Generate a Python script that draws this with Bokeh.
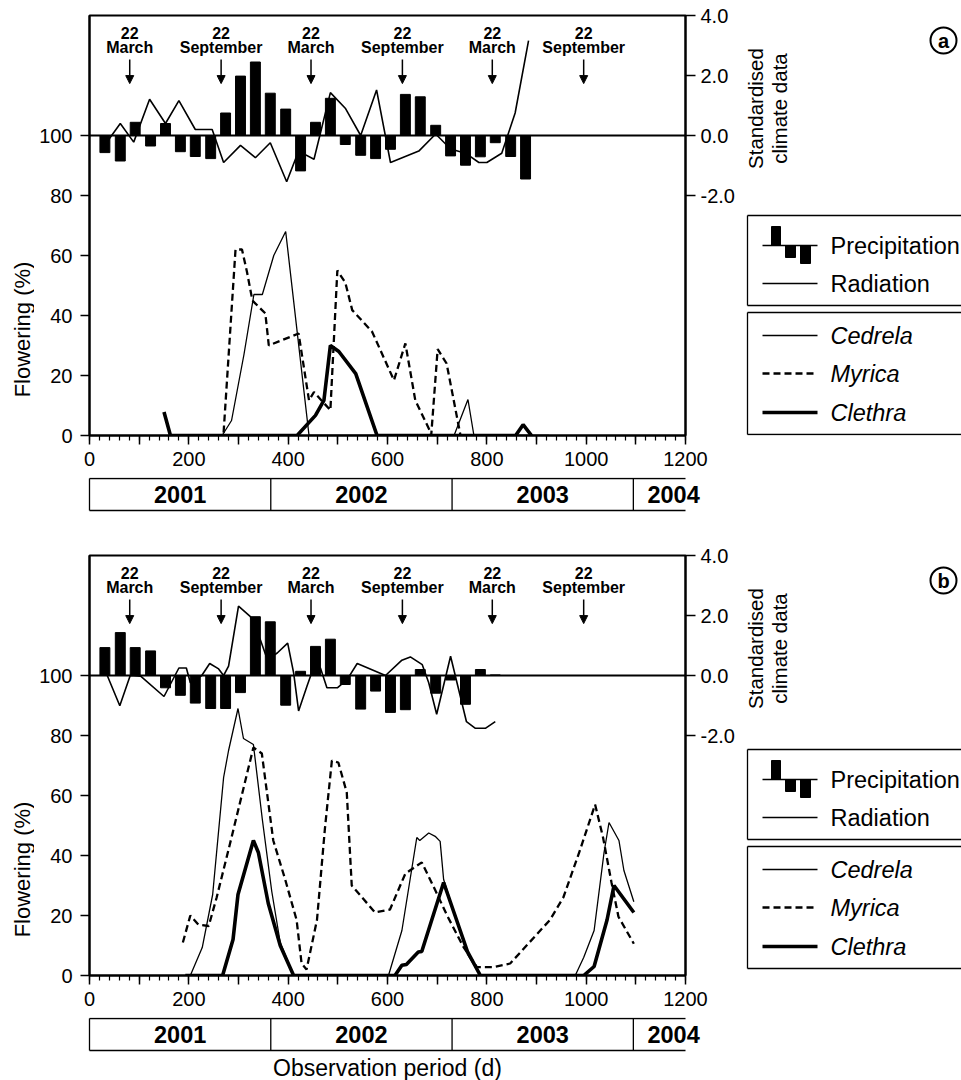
import math
from bokeh.plotting import figure
from bokeh.layouts import column, row
from bokeh.models import (Range1d, LinearAxis, FixedTicker, PrintfTickFormatter, Span,
                          Arrow, NormalHead, ColumnDataSource)
from bokeh.core.properties import value
from bokeh.embed import file_html
from bokeh.resources import INLINE

# ---------------- data ----------------
# Panel a
PREC_A_DAY = [31, 62, 92, 123, 153, 183, 213, 244, 274, 304, 334, 364, 395, 425, 455,
              485, 515, 546, 576, 606, 636, 666, 697, 727, 757, 787, 817, 848, 878]
PREC_A = [-0.57, -0.85, 0.44, -0.35, 0.40, -0.54, -0.70, -0.77, 0.75, 1.98, 2.45, 1.41,
          0.88, -1.18, 0.44, 1.24, -0.30, -0.66, -0.77, -0.46, 1.37, 1.29, 0.34, -0.68,
          -0.99, -0.71, -0.24, -0.70, -1.45]
RAD_A_DAY = [25, 62, 89, 121, 153, 180, 213, 247, 270, 304, 334, 364, 397, 421, 452, 485,
             515, 546, 578, 606, 663, 697, 727, 757, 784, 800, 830, 857, 884]
RAD_A = [-0.45, 0.40, -0.22, 1.21, 0.40, 1.16, 0.20, 0.20, -0.90, -0.33, -0.74, -0.24,
         -1.54, -0.52, -0.79, 1.43, 0.91, 0.0, 1.52, -0.90, -0.52, 0.05, -0.45, -0.59,
         -0.90, -0.90, -0.59, 0.75, 3.16]
CED_A_DAY = [163, 267, 286, 311, 331, 348, 371, 395, 442, 734, 762, 774, 925]
CED_A = [0, 0, 5, 27, 47, 47, 60, 68, 0, 0, 12, 0, 0]
MYR_A_DAY = [163, 267, 270, 294, 307, 317, 328, 354, 361, 421, 442, 452, 485, 499, 515,
             529, 569, 613, 636, 656, 685, 688, 701, 719, 747]
MYR_A = [0, 0, 1, 62, 62, 54.6, 45, 40.7, 30, 34, 11.7, 14.5, 8.4, 55, 51, 41.8, 34.6,
         18.4, 30.7, 11.7, 1.7, 0, 28.8, 24, 0]
CLE_A_DAY = [150, 163, 418, 455, 472, 485, 502, 536, 579, 858, 873, 890]
CLE_A = [7.8, 0, 0, 6.7, 11.7, 30, 28, 20.6, 0, 0, 3.6, 0]

# Panel b
PREC_B_DAY = [31, 62, 92, 123, 153, 183, 213, 244, 274, 304, 334, 364, 395, 425, 455,
              485, 515, 546, 576, 606, 636, 666, 697, 727, 757, 787, 817]
PREC_B = [0.93, 1.43, 0.93, 0.82, -0.41, -0.66, -0.92, -1.10, -1.10, -0.57, 1.96, 1.79,
          -0.99, 0.14, 0.97, 1.21, -0.30, -1.12, -0.52, -1.23, -1.14, 0.20, -0.59, -0.15,
          -0.96, 0.20, 0.02]
RAD_B_DAY = [28, 61, 82, 103, 150, 180, 195, 203, 226, 242, 260, 270, 280, 300, 324, 344,
             358, 378, 399, 411, 421, 438, 452, 465, 478, 499, 519, 539, 596, 629, 646,
             670, 683, 699, 727, 759, 777, 797, 817]
RAD_B = [0.31, -1.01, 0.0, -0.02, -0.70, 0.25, 0.25, -0.24, 0.0, 0.40, 0.22, 0.0, 0.31,
         2.31, 1.96, 1.19, 0.53, 0.75, 1.08, 0.09, -1.18, -0.35, 0.31, 0.25, -0.41, -0.41,
         -0.13, 0.40, 0.0, 0.51, 0.62, 0.36, -0.24, -1.29, 0.64, -1.54, -1.76, -1.76, -1.54]
CED_B_DAY = [193, 203, 227, 248, 270, 280, 299, 310, 330, 348, 367, 384, 411, 602, 629,
             659, 665, 683, 696, 706, 713, 761, 787, 978, 995, 1016, 1036, 1046, 1066,
             1076, 1096]
CED_B = [0, 0, 9.3, 27, 66, 75, 89, 79, 77, 52, 28, 11, 0, 0, 15, 46, 45, 47.5, 46.4,
         44.7, 32, 7, 0, 0, 6, 15, 41, 51, 45, 35, 24.6]
MYR_B_DAY = [188, 203, 219, 240, 256, 283, 330, 347, 370, 394, 417, 427, 437, 458, 474,
             488, 501, 518, 528, 575, 605, 636, 669, 696, 720, 753, 780, 814, 847, 927,
             954, 988, 1018, 1034, 1051, 1065, 1096]
MYR_B = [11, 20, 17, 16.5, 26, 44, 76, 74, 45, 32, 18.5, 4, 2, 18.5, 49, 71.6, 71, 61, 30,
         21, 22, 34, 37.7, 28.5, 20, 9.5, 2.8, 2.8, 4, 18.5, 26, 42, 57, 46, 31, 19.6, 10.6]
CLE_B_DAY = [193, 268, 289, 299, 330, 340, 360, 384, 411, 615, 629, 638, 662, 669, 713,
             761, 787, 995, 1016, 1042, 1056, 1096]
CLE_B = [0, 0, 12, 27, 45, 41, 24, 10, 0, 0, 3.4, 3.7, 7.8, 8, 31, 8, 0, 0, 3, 18.5, 30, 21]

# season markers (equinoxes)
MARK_DAY = [81, 265, 446, 630, 811, 995]
MARK_MONTH = ["March", "September", "March", "September", "March", "September"]
MARK_DATE = ["22"] * 6

# years
YEAR_LABELS = ["2001", "2002", "2003", "2004"]
YEAR_START = [0, 365, 730, 1095]
YEAR_END = [365, 730, 1095, 1257]

FLOW_TICKS = [0, 20, 40, 60, 80, 100]
CLIM_TICKS = [-2, 0, 2, 4]
X_MAJOR = list(range(0, 1201, 100))
X_MINOR = list(range(0, 1201, 20))
X_LABELLED = list(range(0, 1201, 200))

# ---------------- layout constants ----------------
FONT = "Liberation Sans"
PAGE_W = 961
LAB_W = 34                   # narrow strip holding the left axis title
FRAME_X0, FRAME_W = 89, 596  # page x of frame left, frame width
MAIN_W = 743 - LAB_W
SIDE_X0 = 743
SIDE_W = PAGE_W - SIDE_X0
FRAME_H = 420
BOT_B = 42
PPD = FRAME_W / 1200.0


def style_axis(ax):
    ax.axis_line_width = 2
    ax.axis_line_color = "black"
    ax.major_tick_line_width = 1.5
    ax.minor_tick_line_width = 1.2
    ax.major_tick_in = 0
    ax.minor_tick_in = 0
    ax.major_label_text_font = FONT
    ax.major_label_text_font_size = "20px"
    ax.major_label_text_color = "black"


def blank_fig(w, h, xr, yr, top_b=0, bot_b=0):
    f = figure(width=w, height=h, title=None, x_range=xr, y_range=yr,
               x_axis_type=None, y_axis_type=None, toolbar_location=None,
               output_backend="svg", min_border=0, min_border_left=0, min_border_right=0,
               min_border_top=top_b, min_border_bottom=bot_b)
    f.outline_line_color = None
    f.background_fill_color = "white"
    f.border_fill_color = "white"
    return f


def main_fig(top_b, prec_d, prec_v, rad_d, rad_v, ced_d, ced_v, myr_d, myr_v, cle_d, cle_v):
    h = top_b + FRAME_H + BOT_B
    p = figure(width=MAIN_W, height=h, title=None,
               x_range=Range1d(0, 1200), y_range=Range1d(0, 140),
               x_axis_type=None, y_axis_type=None,
               toolbar_location=None, output_backend="svg",
               min_border_left=FRAME_X0 - LAB_W,
               min_border_right=MAIN_W - (FRAME_X0 - LAB_W) - FRAME_W,
               min_border_top=top_b, min_border_bottom=BOT_B)
    p.extra_y_ranges = {"clim": Range1d(-10, 4)}
    p.outline_line_color = "black"
    p.outline_line_width = 2
    p.background_fill_color = "white"
    p.border_fill_color = "white"

    xax = LinearAxis(ticker=FixedTicker(ticks=X_MAJOR, minor_ticks=X_MINOR),
                     major_label_overrides={t: "" for t in X_MAJOR if t not in X_LABELLED})
    style_axis(xax)
    xax.major_tick_out = 9
    xax.minor_tick_out = 5
    xax.major_label_standoff = 7
    p.add_layout(xax, "below")

    yax = LinearAxis(ticker=FixedTicker(ticks=FLOW_TICKS, minor_ticks=[]))
    style_axis(yax)
    yax.major_tick_out = 9
    yax.major_label_standoff = 8
    p.add_layout(yax, "left")

    rax = LinearAxis(y_range_name="clim", ticker=FixedTicker(ticks=CLIM_TICKS, minor_ticks=[]),
                     formatter=PrintfTickFormatter(format="%.1f"))
    style_axis(rax)
    rax.major_tick_out = 10
    rax.major_label_standoff = 5
    p.add_layout(rax, "right")

    # climate
    p.vbar(x=prec_d, top=prec_v, bottom=0, width=20, y_range_name="clim",
           fill_color="black", line_color="black")
    p.line(rad_d, rad_v, y_range_name="clim", line_color="black", line_width=1.6)
    p.add_layout(Span(location=0, dimension="width", y_range_name="clim",
                      line_color="black", line_width=2))

    # flowering
    p.line(ced_d, ced_v, line_color="black", line_width=1.3)
    p.line(myr_d, myr_v, line_color="black", line_width=2.3, line_dash="7 4")
    p.line(cle_d, cle_v, line_color="black", line_width=3.6)

    # equinox markers
    src = ColumnDataSource(dict(d=MARK_DAY, m=MARK_MONTH, n=MARK_DATE))
    p.text(x="d", y=134.3, text="n", source=src, text_align="center", text_baseline="middle",
           text_font=value(FONT), text_font_style="bold", text_font_size="16px")
    p.text(x="d", y=129.3, text="m", source=src, text_align="center", text_baseline="middle",
           text_font=value(FONT), text_font_style="bold", text_font_size="16px")
    p.add_layout(Arrow(end=NormalHead(size=8, fill_color="black", line_color="black"),
                       x_start="d", y_start=125.3, x_end="d", y_end=117.3, source=src,
                       line_color="black", line_width=1.5))
    return p


def label_fig(top_b):
    # left strip: y in pixels measured from the frame top
    h = top_b + FRAME_H + BOT_B
    f = blank_fig(LAB_W, h, Range1d(0, LAB_W), Range1d(FRAME_H, 0), top_b, BOT_B)
    f.text(x=[22], y=[314], text=["Flowering (%)"], angle=math.pi / 2, text_align="center",
           text_baseline="middle", text_font=value(FONT), text_font_size="22px")
    return f


def side_fig(top_b, letter, dy):
    # x in page pixels, y in pixels measured from the frame top
    h = top_b + FRAME_H + BOT_B
    s = blank_fig(SIDE_W, h, Range1d(SIDE_X0, PAGE_W), Range1d(FRAME_H, 0), top_b, BOT_B)
    s.text(x=[755, 779], y=[93, 93], text=["Standardised", "climate data"],
           angle=math.pi / 2, text_align="center", text_baseline="alphabetic",
           text_font=value(FONT), text_font_size="20.5px", text_color="black")
    s.scatter(x=[943], y=[25], marker="circle", size=26, fill_color=None,
              line_color="black", line_width=2)
    s.text(x=[943], y=[25], text=[letter], text_align="center", text_baseline="middle",
           text_font=value(FONT), text_font_style="bold", text_font_size="20px")
    right = PAGE_W
    for top, bot in [(200 + dy, 290 + dy), (297 + dy, 419 + dy)]:
        s.segment(x0=[747, 747, 747], y0=[top, bot, top], x1=[right, right, 747],
                  y1=[top, bot, bot], line_color="black", line_width=1.3)
    s.quad(left=[771, 785, 800], right=[780, 795, 810], top=[211 + dy, 230 + dy, 230 + dy],
           bottom=[230 + dy, 242 + dy, 248 + dy], fill_color="black", line_color="black")
    ys = [230 + dy, 268 + dy, 320 + dy, 397 + dy]
    s.segment(x0=[762] * 4, x1=[817] * 4, y0=ys, y1=ys,
              line_color="black", line_width=[1.3, 1.6, 1.3, 3.6])
    s.segment(x0=[762], x1=[817], y0=[358 + dy], y1=[358 + dy], line_color="black",
              line_width=2.3, line_dash="7 4")
    s.text(x=[830, 830], y=[230 + dy, 268 + dy], text=["Precipitation", "Radiation"],
           text_baseline="middle", text_font=value(FONT), text_font_size="23.5px")
    s.text(x=[830, 830, 830], y=[320 + dy, 358 + dy, 397 + dy],
           text=["Cedrela", "Myrica", "Clethra"], text_baseline="middle",
           text_font=value(FONT), text_font_size="23.5px", text_font_style="italic")
    return s


def year_fig(h, xlabel=None):
    x0 = -FRAME_X0 / PPD
    x1 = (PAGE_W - FRAME_X0) / PPD
    f = blank_fig(PAGE_W, h, Range1d(x0, x1), Range1d(h, 0))
    f.segment(x0=[0, 0], x1=[1200, 1200], y0=[1, 33], y1=[1, 33], line_color="black",
              line_width=1.3)
    f.segment(x0=YEAR_START, x1=YEAR_START, y0=1, y1=33, line_color="black", line_width=1.3)
    centers = [(a + b) / 2 for a, b in zip(YEAR_START, YEAR_END)]
    f.text(x=centers, y=[17] * 4, text=YEAR_LABELS, text_align="center",
           text_baseline="middle", text_font=value(FONT), text_font_style="bold",
           text_font_size="23.5px")
    if xlabel:
        f.text(x=[600], y=[50], text=[xlabel], text_align="center", text_baseline="middle",
               text_font=value(FONT), text_font_size="23px")
    return f


TOP_A, TOP_B = 15, 18
pa = main_fig(TOP_A, PREC_A_DAY, PREC_A, RAD_A_DAY, RAD_A, CED_A_DAY, CED_A, MYR_A_DAY, MYR_A,
              CLE_A_DAY, CLE_A)
pb = main_fig(TOP_B, PREC_B_DAY, PREC_B, RAD_B_DAY, RAD_B, CED_B_DAY, CED_B, MYR_B_DAY, MYR_B,
              CLE_B_DAY, CLE_B)
layout = column(
    row(label_fig(TOP_A), pa, side_fig(TOP_A, "a", 0)),
    year_fig(60),
    row(label_fig(TOP_B), pb, side_fig(TOP_B, "b", -6)),
    year_fig(63, "Observation period (d)"),
)
open("out.html", "w").write(file_html(layout, INLINE))
